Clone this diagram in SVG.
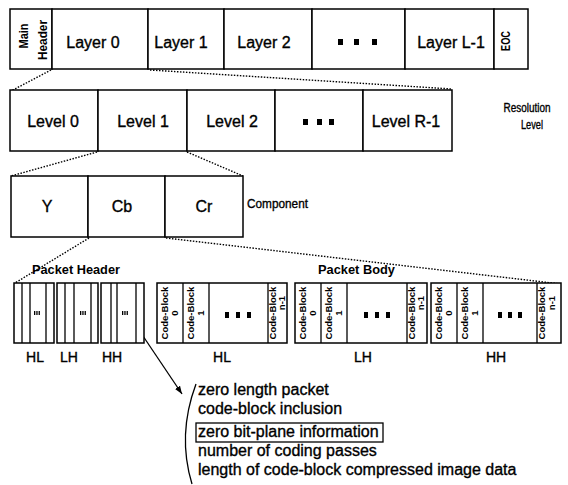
<svg xmlns="http://www.w3.org/2000/svg" width="568" height="485" viewBox="0 0 568 485">
<defs>
<style>
.box{fill:#fff;stroke:#000;stroke-width:1.5}
.ln{fill:none;stroke:#000;stroke-width:1.3}
.dl{fill:none;stroke:#000;stroke-width:1.4;stroke-dasharray:1.5 1.5}
.t{font-family:"Liberation Sans",Arial,sans-serif;fill:#000}
.w{stroke:#000;stroke-width:0.35}
.big{font-size:16px;text-anchor:middle}
.sb{font-size:9.5px;font-weight:bold;text-anchor:middle}
.lab{font-size:14px;text-anchor:middle}
.lst{font-size:16px}
.sq{fill:#000}
.tiny{fill:#000}
</style>
<marker id="ah" viewBox="0 0 8 6" refX="8" refY="3" markerWidth="8" markerHeight="6" markerUnits="userSpaceOnUse" orient="auto"><path d="M0,0 L8,3 L0,6 z" fill="#000"/></marker>
</defs>
<rect width="568" height="485" fill="#fff"/>

<g id="connectors">
<line class="dl" x1="51" y1="70" x2="11" y2="91"/>
<line class="dl" x1="150" y1="70" x2="452" y2="89"/>
<line class="dl" x1="97" y1="152" x2="11" y2="176"/>
<line class="dl" x1="187" y1="152" x2="243" y2="176"/>
<line class="dl" x1="89" y1="238" x2="15" y2="283"/>
<line class="dl" x1="166" y1="238" x2="561" y2="284"/>
<line class="ln" x1="143" y1="336" x2="182" y2="394" marker-end="url(#ah)"/>
<path class="ln" d="M196,384 Q177,435 192,484"/>
</g>

<g id="main-header"><rect class="box" x="10" y="9" width="42" height="60"/>
<text class="t" font-size="13" font-weight="bold" text-anchor="middle" textLength="25" lengthAdjust="spacingAndGlyphs" transform="translate(28,36) rotate(-90)">Main</text>
<text class="t" font-size="13" font-weight="bold" text-anchor="middle" textLength="40" lengthAdjust="spacingAndGlyphs" transform="translate(47,40) rotate(-90)">Header</text></g>
<g id="layer-0"><rect class="box" x="52" y="9" width="96" height="60"/><text class="t w big" x="93" y="48">Layer 0</text></g>
<g id="layer-1"><rect class="box" x="148" y="9" width="76" height="60"/><text class="t w big" x="181" y="48">Layer 1</text></g>
<g id="layer-2"><rect class="box" x="224" y="9" width="88" height="60"/><text class="t w big" x="264" y="48">Layer 2</text></g>
<g id="layer-dots"><rect class="box" x="312" y="9" width="93" height="60"/><rect class="sq" x="338" y="39" width="5" height="6"/><rect class="sq" x="354" y="39" width="5" height="6"/><rect class="sq" x="372" y="39" width="5" height="6"/></g>
<g id="layer-L-1"><rect class="box" x="405" y="9" width="89" height="60"/><text class="t w big" x="451" y="48">Layer L-1</text></g>
<g id="eoc"><rect class="box" x="494" y="9" width="34" height="60"/><text class="t" font-size="12" font-weight="bold" text-anchor="middle" textLength="20" lengthAdjust="spacingAndGlyphs" transform="translate(510,41) rotate(-90)">EOC</text></g>

<g id="level-0"><rect class="box" x="10" y="90" width="88" height="61"/><text class="t w big" x="53" y="127">Level 0</text></g>
<g id="level-1"><rect class="box" x="98" y="90" width="89" height="61"/><text class="t w big" x="143" y="127">Level 1</text></g>
<g id="level-2"><rect class="box" x="187" y="90" width="88" height="61"/><text class="t w big" x="232" y="127">Level 2</text></g>
<g id="level-dots"><rect class="box" x="275" y="90" width="88" height="61"/><rect class="sq" x="303" y="119" width="5" height="6"/><rect class="sq" x="317" y="119" width="5" height="6"/><rect class="sq" x="329" y="119" width="5" height="6"/></g>
<g id="level-R-1"><rect class="box" x="363" y="90" width="89" height="61"/><text class="t w big" x="406" y="127">Level R-1</text></g>
<g id="resolution-label"><text class="t w" font-size="12" text-anchor="middle" x="527" y="112" textLength="47" lengthAdjust="spacingAndGlyphs">Resolution</text><text class="t w" font-size="12" text-anchor="middle" x="532" y="129" textLength="22" lengthAdjust="spacingAndGlyphs">Level</text></g>

<g id="comp-Y"><rect class="box" x="11" y="176" width="77" height="61"/><text class="t w big" x="47" y="212">Y</text></g>
<g id="comp-Cb"><rect class="box" x="88" y="176" width="77" height="61"/><text class="t w big" x="122" y="212">Cb</text></g>
<g id="comp-Cr"><rect class="box" x="165" y="176" width="78" height="61"/><text class="t w big" x="204" y="212">Cr</text></g>
<g id="component-label"><text class="t w" font-size="13" x="247" y="208" textLength="61" lengthAdjust="spacingAndGlyphs">Component</text></g>

<g id="packet-header-label"><text class="t" font-size="13" font-weight="bold" x="32" y="274" textLength="88" lengthAdjust="spacingAndGlyphs">Packet Header</text></g>
<g id="packet-body-label"><text class="t" font-size="13" font-weight="bold" x="318" y="274" textLength="77" lengthAdjust="spacingAndGlyphs">Packet Body</text></g>

<g id="hdr-HL"><rect class="box" x="14" y="283" width="40" height="60"/>
<line class="ln" x1="22" y1="283" x2="22" y2="343"/><line class="ln" x1="30" y1="283" x2="30" y2="343"/><line class="ln" x1="46" y1="283" x2="46" y2="343"/>
<rect class="tiny" x="34" y="311" width="1.3" height="4"/><rect class="tiny" x="36.3" y="311" width="1.3" height="4"/><rect class="tiny" x="38.6" y="311" width="1.3" height="4"/>
<text class="t w lab" x="35" y="362">HL</text></g>
<g id="hdr-LH"><rect class="box" x="57" y="283" width="41" height="60"/>
<line class="ln" x1="65" y1="283" x2="65" y2="343"/><line class="ln" x1="74" y1="283" x2="74" y2="343"/><line class="ln" x1="91" y1="283" x2="91" y2="343"/>
<rect class="tiny" x="80" y="311" width="1.3" height="4"/><rect class="tiny" x="82.3" y="311" width="1.3" height="4"/><rect class="tiny" x="84.6" y="311" width="1.3" height="4"/>
<text class="t w lab" x="69" y="362">LH</text></g>
<g id="hdr-HH"><rect class="box" x="101" y="283" width="43" height="60"/>
<line class="ln" x1="111" y1="283" x2="111" y2="343"/><line class="ln" x1="117" y1="283" x2="117" y2="343"/><line class="ln" x1="136" y1="283" x2="136" y2="343"/>
<rect class="tiny" x="122" y="311" width="1.3" height="4"/><rect class="tiny" x="124.3" y="311" width="1.3" height="4"/><rect class="tiny" x="126.6" y="311" width="1.3" height="4"/>
<text class="t w lab" x="112" y="362">HH</text></g>

<g id="body-HL"><rect class="box" x="157" y="283" width="130" height="60"/>
<line class="ln" x1="183" y1="283" x2="183" y2="343"/><line class="ln" x1="209" y1="283" x2="209" y2="343"/><line class="ln" x1="268" y1="283" x2="268" y2="343"/>
<text class="t sb" transform="translate(168,313) rotate(-90)">Code-Block</text><text class="t sb" transform="translate(178,313) rotate(-90)">0</text>
<text class="t sb" transform="translate(194,313) rotate(-90)">Code-Block</text><text class="t sb" transform="translate(204,313) rotate(-90)">1</text>
<rect class="sq" x="225" y="312" width="4" height="6"/><rect class="sq" x="236" y="312" width="4" height="6"/><rect class="sq" x="247" y="312" width="4" height="6"/>
<text class="t sb" transform="translate(276,313) rotate(-90)">Code-Block</text><text class="t sb" transform="translate(285,303) rotate(-90)">n-1</text>
<text class="t w lab" x="222" y="362">HL</text></g>
<g id="body-LH"><rect class="box" x="295" y="283" width="132" height="60"/>
<line class="ln" x1="321" y1="283" x2="321" y2="343"/><line class="ln" x1="347" y1="283" x2="347" y2="343"/><line class="ln" x1="407" y1="283" x2="407" y2="343"/>
<text class="t sb" transform="translate(306,313) rotate(-90)">Code-Block</text><text class="t sb" transform="translate(316,313) rotate(-90)">0</text>
<text class="t sb" transform="translate(332,313) rotate(-90)">Code-Block</text><text class="t sb" transform="translate(342,313) rotate(-90)">1</text>
<rect class="sq" x="364" y="312" width="4" height="6"/><rect class="sq" x="375" y="312" width="4" height="6"/><rect class="sq" x="386" y="312" width="4" height="6"/>
<text class="t sb" transform="translate(415,313) rotate(-90)">Code-Block</text><text class="t sb" transform="translate(424,303) rotate(-90)">n-1</text>
<text class="t w lab" x="363" y="362">LH</text></g>
<g id="body-HH"><rect class="box" x="431" y="283" width="130" height="60"/>
<line class="ln" x1="457" y1="283" x2="457" y2="343"/><line class="ln" x1="483" y1="283" x2="483" y2="343"/><line class="ln" x1="537" y1="283" x2="537" y2="343"/>
<text class="t sb" transform="translate(442,313) rotate(-90)">Code-Block</text><text class="t sb" transform="translate(452,313) rotate(-90)">0</text>
<text class="t sb" transform="translate(468,313) rotate(-90)">Code-Block</text><text class="t sb" transform="translate(478,313) rotate(-90)">1</text>
<rect class="sq" x="498" y="312" width="4" height="6"/><rect class="sq" x="508" y="312" width="4" height="6"/><rect class="sq" x="518" y="312" width="4" height="6"/>
<text class="t sb" transform="translate(545,313) rotate(-90)">Code-Block</text><text class="t sb" transform="translate(555,303) rotate(-90)">n-1</text>
<text class="t w lab" x="496" y="362">HH</text></g>

<g id="header-contents">
<text class="t w lst" x="198" y="395">zero length packet</text>
<text class="t w lst" x="198" y="414">code-block inclusion</text>
<rect class="ln" x="196" y="423" width="187" height="19"/>
<text class="t w lst" x="198" y="437">zero bit-plane information</text>
<text class="t w lst" x="198" y="456">number of coding passes</text>
<text class="t w lst" x="198" y="475">length of code-block compressed image data</text>
</g>
</svg>
